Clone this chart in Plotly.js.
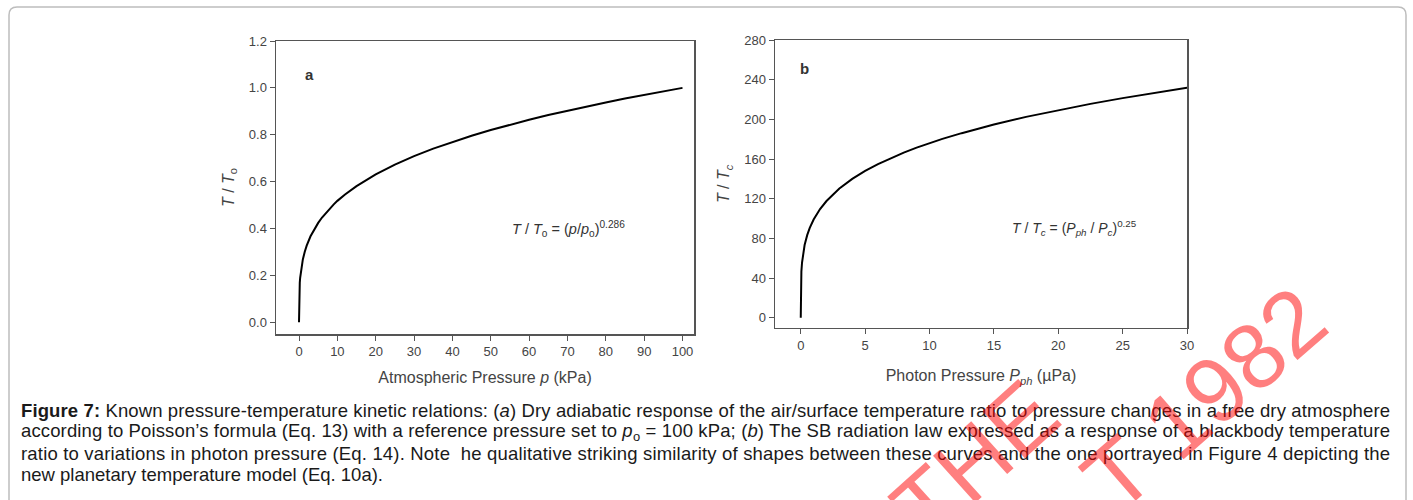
<!DOCTYPE html>
<html>
<head>
<meta charset="utf-8">
<script src="https://cdn.plot.ly/plotly-3.0.1.min.js"></script>
<style>html,body{margin:0;padding:0;background:#fff;}#chart{width:1413px;height:500px;}</style>
</head>
<body>
<div id="chart"></div>
<script>
// Panel a: T/To vs atmospheric pressure p (kPa)
const pressureA = [0, 0.01, 0.05, 0.1, 0.2, 0.3, 0.5, 1, 1.5, 2, 3, 4, 5, 6, 7, 8, 9, 10, 12, 15, 17.5, 20, 25, 30, 35, 40, 45, 50, 55, 60, 65, 70, 75, 80, 85, 90, 95, 100];
const ratioA    = [0, 0.072, 0.114, 0.139, 0.169, 0.190, 0.220, 0.268, 0.301, 0.327, 0.367, 0.398, 0.424, 0.447, 0.467, 0.486, 0.502, 0.518, 0.545, 0.581, 0.607, 0.631, 0.673, 0.709, 0.741, 0.769, 0.796, 0.820, 0.843, 0.864, 0.884, 0.903, 0.921, 0.938, 0.955, 0.970, 0.985, 1.0];
// Panel b: T/Tc vs photon pressure Pph (µPa)
const pressureB = [0, 0.001, 0.01, 0.05, 0.1, 0.2, 0.3, 0.5, 0.7, 1, 1.5, 2, 2.5, 3, 4, 5, 6, 7, 8, 9, 10, 11, 12.5, 15, 17.5, 20, 22.5, 25, 27.5, 30];
const ratioB    = [0, 17.6, 31.3, 46.8, 55.7, 66.2, 73.3, 83.3, 90.6, 99, 109.6, 117.7, 124.5, 130.3, 140, 148, 154.9, 161, 166.5, 171.5, 176, 180.3, 186.1, 194.8, 202.5, 209.4, 215.6, 221.4, 226.7, 232];

const xTicksA = [0, 10, 20, 30, 40, 50, 60, 70, 80, 90, 100];
const yTicksA = [0, 0.2, 0.4, 0.6, 0.8, 1.0, 1.2];
const xTicksB = [0, 5, 10, 15, 20, 25, 30];
const yTicksB = [0, 40, 80, 120, 160, 200, 240, 280];

const captionLines = [
  "<b>Figure 7:</b> Known pressure-temperature kinetic relations: (<i>a</i>) Dry adiabatic response of the air/surface temperature ratio to pressure changes in a free dry atmosphere",
  "according to Poisson’s formula (Eq. 13) with a reference pressure set to <i>p</i><sub>o</sub> = 100 kPa; (<i>b</i>) The SB radiation law expressed as a response of a blackbody temperature",
  "ratio to variations in photon pressure (Eq. 14). Note  he qualitative striking similarity of shapes between these curves and the one portrayed in Figure 4 depicting the",
  "new planetary temperature model (Eq. 10a)."
];

const W = 1413, H = 500;
const px = v => v / W;
const py = v => 1 - v / H;
const FONT = "Liberation Sans, Arial, Helvetica, sans-serif";

const traces = [
  {x: pressureA, y: ratioA, type: 'scatter', mode: 'lines', line: {color: '#000', width: 2}, xaxis: 'x', yaxis: 'y', hoverinfo: 'skip'},
  {x: pressureB, y: ratioB, type: 'scatter', mode: 'lines', line: {color: '#000', width: 2}, xaxis: 'x2', yaxis: 'y2', hoverinfo: 'skip'}
];

const axisCommon = {
  showline: true, mirror: true, linecolor: '#555', linewidth: 1.5,
  ticks: 'outside', ticklen: 5, tickcolor: '#555', tickwidth: 1,
  showgrid: false, zeroline: false,
  tickfont: {family: FONT, size: 13, color: '#444'}
};
const titleFont = {family: FONT, size: 16, color: '#444'};

const layout = {
  width: W, height: H,
  margin: {l: 0, r: 0, t: 0, b: 0},
  paper_bgcolor: '#fff', plot_bgcolor: '#fff',
  showlegend: false,
  font: {family: FONT, color: '#333'},
  xaxis: Object.assign({}, axisCommon, {
    domain: [px(276), px(694)], range: [-6, 103],
    tickmode: 'array', tickvals: xTicksA, ticktext: xTicksA.map(String),
    title: {text: 'Atmospheric Pressure <i>p</i> (kPa)', font: titleFont, standoff: 13}
  }),
  yaxis: Object.assign({}, axisCommon, {
    domain: [py(334), py(41)], range: [-0.05, 1.2],
    tickmode: 'array', tickvals: yTicksA, ticktext: yTicksA.map(v => v.toFixed(1)),
    title: {text: '<i>T</i> / <i>T</i><sub>o</sub>', font: titleFont, standoff: 10}
  }),
  xaxis2: Object.assign({}, axisCommon, {
    domain: [px(775), px(1187)], range: [-2, 30], anchor: 'y2',
    tickmode: 'array', tickvals: xTicksB, ticktext: xTicksB.map(String),
    title: {text: 'Photon Pressure <i>P<sub>ph</sub></i> (µPa)', font: titleFont, standoff: 18}
  }),
  yaxis2: Object.assign({}, axisCommon, {
    domain: [py(327.7), py(40)], range: [-10, 280], anchor: 'x2',
    tickmode: 'array', tickvals: yTicksB, ticktext: yTicksB.map(String),
    title: {text: '<i>T</i> / <i>T<sub>c</sub></i>', font: titleFont, standoff: 10}
  }),
  shapes: [
    {type: 'path', xref: 'paper', yref: 'paper',
     path: `M ${px(9)},${py(520)} L ${px(9)},${py(15)} Q ${px(9)},${py(7)} ${px(17)},${py(7)} L ${px(1398)},${py(7)} Q ${px(1406)},${py(7)} ${px(1406)},${py(15)} L ${px(1406)},${py(520)}`,
     line: {color: '#bdbdbd', width: 1.5}, layer: 'below'}
  ],
  annotations: []
};

// panel letters
layout.annotations.push({xref: 'paper', yref: 'paper', x: px(309), y: py(74), xanchor: 'center', yanchor: 'middle', text: '<b>a</b>', showarrow: false, font: {family: FONT, size: 15, color: '#333'}});
layout.annotations.push({xref: 'paper', yref: 'paper', x: px(805), y: py(68), xanchor: 'center', yanchor: 'middle', text: '<b>b</b>', showarrow: false, font: {family: FONT, size: 15, color: '#333'}});
// equations
layout.annotations.push({xref: 'paper', yref: 'paper', x: px(510), y: py(229), xanchor: 'left', yanchor: 'middle', showarrow: false,
  text: '<i>T</i> / <i>T</i><sub>o</sub> = (<i>p</i>/<i>p</i><sub>o</sub>)<sup>0.286</sup>', font: {family: FONT, size: 14.5, color: '#333'}});
layout.annotations.push({xref: 'paper', yref: 'paper', x: px(1010), y: py(228), xanchor: 'left', yanchor: 'middle', showarrow: false,
  text: '<i>T</i> / <i>T<sub>c</sub></i> = (<i>P<sub>ph</sub></i> / <i>P<sub>c</sub></i>)<sup>0.25</sup>', font: {family: FONT, size: 14, color: '#333'}});
// caption
const capY = [410, 431.5, 453, 474.5];
const capStart = layout.annotations.length;
captionLines.forEach((t, i) => {
  layout.annotations.push({xref: 'paper', yref: 'paper', x: px(19), y: py(capY[i]), xanchor: 'left', yanchor: 'middle', align: 'left', showarrow: false,
    text: t, font: {family: FONT, size: 18.5, color: '#1a1a1a'}});
});
// watermark
layout.annotations.push({xref: 'paper', yref: 'paper', x: px(975), y: py(460), xanchor: 'center', yanchor: 'middle', showarrow: false, textangle: -42,
  text: 'THE', font: {family: FONT, size: 92, color: 'rgba(255,0,0,0.5)'}});
layout.annotations.push({xref: 'paper', yref: 'paper', x: px(1204), y: py(399), xanchor: 'center', yanchor: 'middle', showarrow: false, textangle: -41,
  text: 'T 1982', font: {family: FONT, size: 92, color: 'rgba(255,0,0,0.5)'}});

Plotly.newPlot('chart', traces, layout, {staticPlot: true, displayModeBar: false}).then(gd => {
  // justify the first three caption lines to the caption width, as in the printed figure
  const texts = gd.querySelectorAll('.annotation .annotation-text');
  for (let i = 0; i < 3; i++) {
    const el = texts[capStart + i];
    if (el) { el.setAttribute('textLength', 1369); el.setAttribute('lengthAdjust', 'spacing'); }
  }
});
</script>
</body>
</html>
